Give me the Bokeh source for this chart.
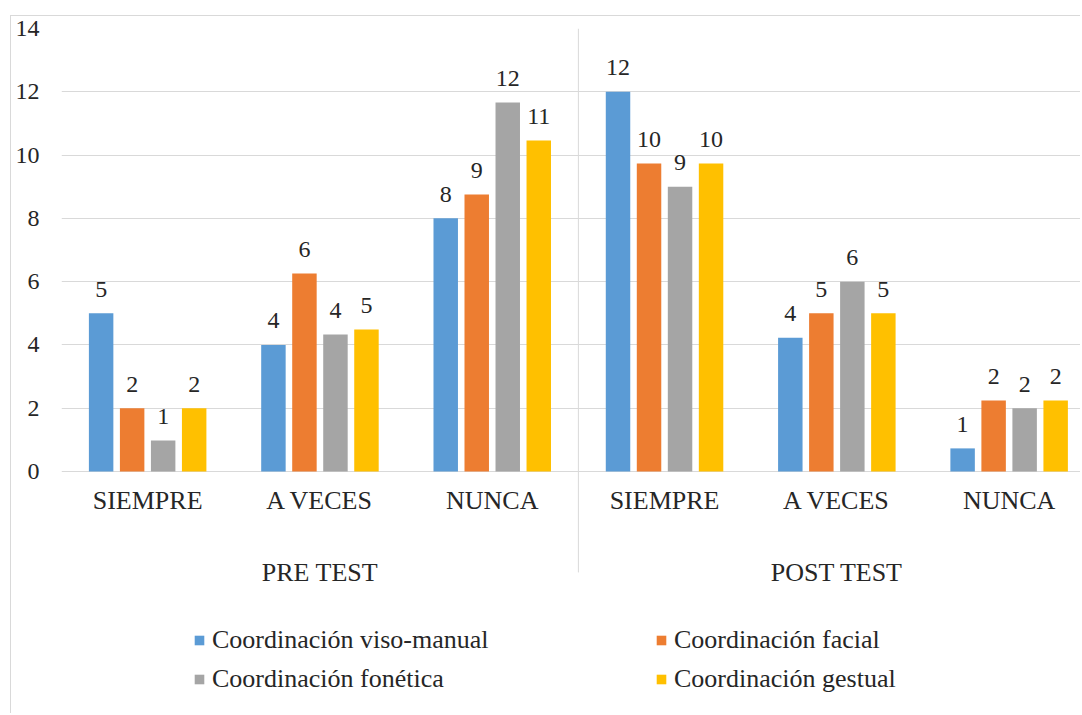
from bokeh.plotting import figure
from bokeh.models import Range1d, FixedTicker, ColumnDataSource, Legend, LegendItem
from bokeh.core.properties import value
from bokeh.embed import file_html
from bokeh.resources import INLINE

# ---------------- data ----------------
groups = ["PRE TEST", "POST TEST"]
categories = ["SIEMPRE", "A VECES", "NUNCA"]
series_names = ["Coordinación viso-manual", "Coordinación facial",
                "Coordinación fonética", "Coordinación gestual"]
colors = ["#5B9BD5", "#ED7D31", "#A5A5A5", "#FFC000"]

# bar heights (PRE: SIEMPRE, A VECES, NUNCA, POST: SIEMPRE, A VECES, NUNCA)
viso_manual = [5.0, 4.0, 8.0, 12.0, 4.23, 0.73]
facial = [2.0, 6.26, 8.75, 9.73, 5.0, 2.24]
fonetica = [0.98, 4.33, 11.66, 9.0, 6.0, 2.0]
gestual = [2.0, 4.49, 10.46, 9.73, 5.0, 2.24]

# data labels as printed on the chart
viso_manual_labels = ["5", "4", "8", "12", "4", "1"]
facial_labels = ["2", "6", "9", "10", "5", "2"]
fonetica_labels = ["1", "4", "12", "9", "6", "2"]
gestual_labels = ["2", "5", "11", "10", "5", "2"]

y_ticks = [0, 2, 4, 6, 8, 10, 12, 14]

series_values = [viso_manual, facial, fonetica, gestual]
series_labels = [viso_manual_labels, facial_labels, fonetica_labels, gestual_labels]

FONT_NAME = "Liberation Serif"
FONT = value(FONT_NAME)
TEXT_COLOR = "#262626"
GRID_COLOR = "#d9d9d9"
TXT = "26px"

n_cat = len(groups) * len(categories)
cat_centers = [i + 0.5 for i in range(n_cat)]
cat_names = [c for g in groups for c in categories]
group_centers = [len(categories) * (j + 0.5) for j in range(len(groups))]

p = figure(width=1070, height=698, output_backend="svg", toolbar_location=None,
           x_range=Range1d(0, 5.92), y_range=Range1d(-7.68, 14),
           min_border_left=50, min_border_top=12, min_border_bottom=0, min_border_right=0,
           margin=(15, 0, 0, 10),
           styles={"border-left": "1px solid #d9d9d9", "border-top": "1px solid #d9d9d9"})
p.background_fill_color = "white"
p.border_fill_color = "white"
p.outline_line_color = None
p.xaxis.visible = False
p.xgrid.visible = False
p.ygrid.ticker = FixedTicker(ticks=y_ticks)
p.ygrid.grid_line_color = GRID_COLOR
p.ygrid.grid_line_width = 1

ax = p.yaxis[0]
ax.ticker = FixedTicker(ticks=y_ticks)
ax.axis_line_color = None
ax.major_tick_line_color = None
ax.minor_tick_line_color = None
ax.major_tick_out = 0
ax.major_tick_in = 0
ax.major_label_standoff = 22
ax.major_label_text_font = FONT_NAME
ax.major_label_text_font_size = "24px"
ax.major_label_text_color = TEXT_COLOR

# separator between PRE and POST groups
sep_x = [float(len(categories))]
p.segment(x0=sep_x, y0=[y_ticks[-1]], x1=sep_x, y1=[-3.19], line_color=GRID_COLOR, line_width=1)

pitch = 0.18
bar_w = 0.142
renderers = []
for k, (vals, labs, col) in enumerate(zip(series_values, series_labels, colors)):
    xs = [c + (k - 1.5) * pitch for c in cat_centers]
    src = ColumnDataSource(dict(x=xs, top=vals, lab=labs))
    r = p.vbar(x="x", top="top", bottom=0, width=bar_w, source=src,
               fill_color=col, line_color=None)
    renderers.append(r)
    p.text(x="x", y="top", text="lab", source=src, text_font=FONT,
           text_font_size="24px", text_color=TEXT_COLOR, text_align="center",
           text_baseline="middle", y_offset=-24)

# category labels
p.text(x=cat_centers, y=[-0.92] * n_cat, text=cat_names, text_font=FONT,
       text_font_size=TXT, text_color=TEXT_COLOR, text_align="center",
       text_baseline="middle")
# group labels
p.text(x=group_centers, y=[-3.19] * len(groups), text=groups, text_font=FONT,
       text_font_size=TXT, text_color=TEXT_COLOR, text_align="center",
       text_baseline="middle")

items = [LegendItem(label=name, renderers=[r]) for name, r in zip(series_names, renderers)]
legend = Legend(items=items, orientation="horizontal", ncols=2, location=(132, 20),
                label_text_font=FONT_NAME, label_text_font_size=TXT,
                label_text_color=TEXT_COLOR, glyph_width=12, glyph_height=12,
                label_standoff=7, spacing=9, label_width=434, padding=0, margin=0,
                border_line_color=None, background_fill_alpha=0)
p.add_layout(legend)

open("out.html", "w").write(file_html(p, INLINE))
